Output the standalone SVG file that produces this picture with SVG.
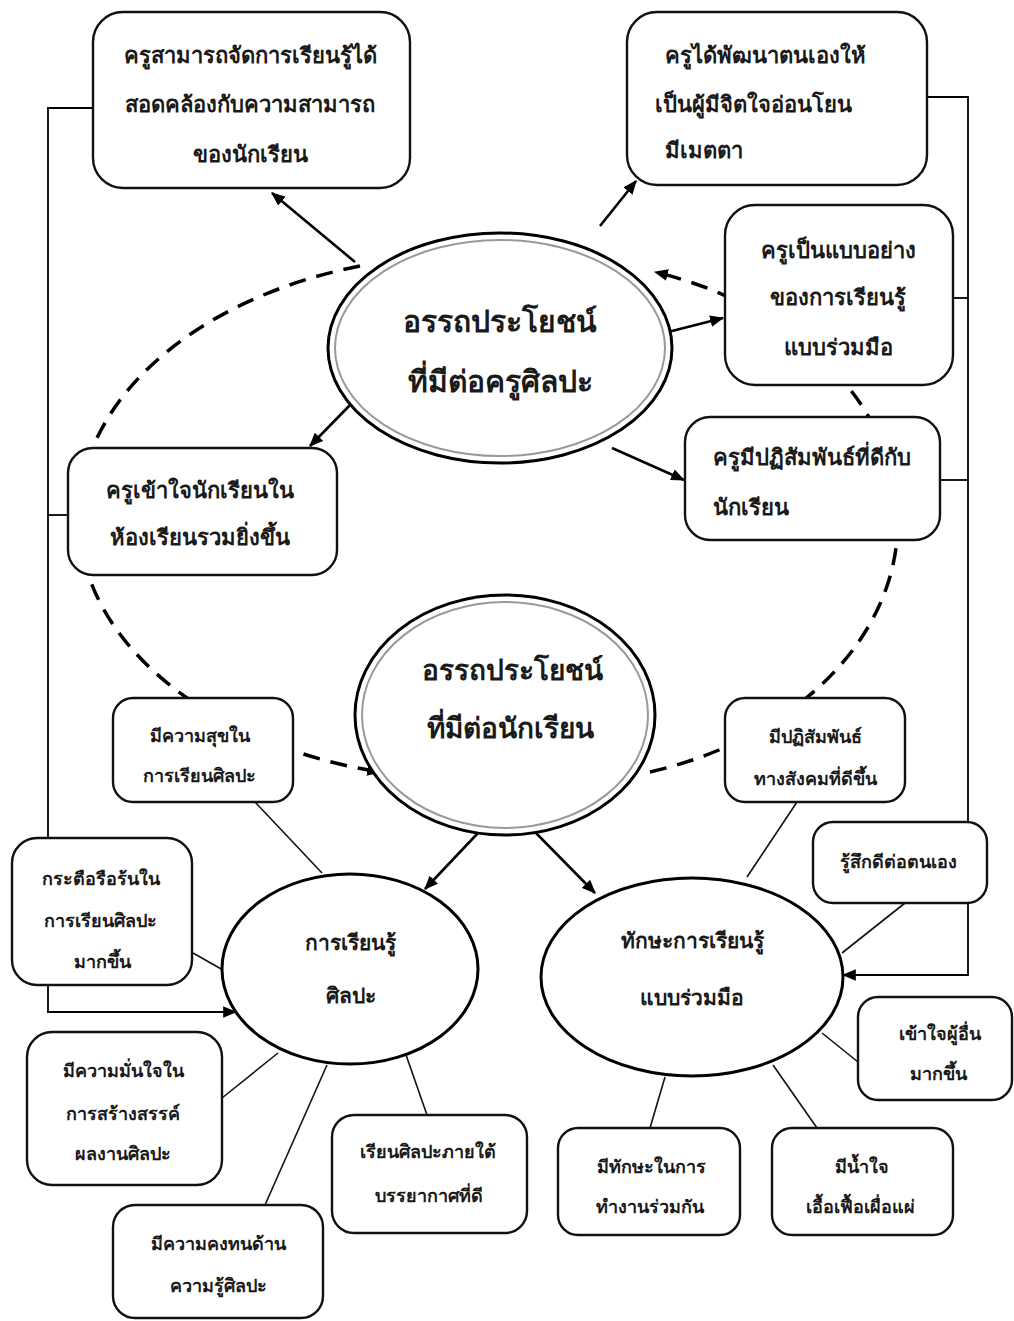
<svg xmlns="http://www.w3.org/2000/svg" width="1014" height="1321" viewBox="0 0 1014 1321">
<defs>
<marker id="ah" viewBox="0 0 12 10" refX="11" refY="5" markerWidth="14" markerHeight="12" markerUnits="userSpaceOnUse" orient="auto">
<path d="M0,0 L12,5 L0,10 z" fill="#000"/>
</marker>
<style>
.box{fill:#fff;stroke:#111;stroke-width:2.4}
.ell{fill:#fff;stroke:#000;stroke-width:3}
.inner{fill:none;stroke:#999;stroke-width:2}
.ln{fill:none;stroke:#111;stroke-width:1.6}
.arr{fill:none;stroke:#000;stroke-width:2.6;marker-end:url(#ah)}
.route{fill:none;stroke:#000;stroke-width:1.8}
.dash{fill:none;stroke:#000;stroke-width:3.5;stroke-dasharray:17 11}
text{font-family:"DejaVu Sans","Noto Sans",sans-serif;font-weight:bold;fill:#1a1a1a}
.t22{font-size:22px}
.t30{font-size:30px}
.t27{font-size:28px}
.t21{font-size:21px}
.t18{font-size:18px}
.m{text-anchor:middle}
</style>
</defs>
<rect width="1014" height="1321" fill="#fff"/>
<g id="connectors">
<path class="dash" d="M360,266 A393,262 0 0 0 380,772" marker-end="url(#ah)"/>
<path class="dash" d="M650,772 A350,262 0 0 0 655,272" marker-end="url(#ah)"/>
<path class="route" d="M93,108 H48 V1012 H236" marker-end="url(#ah)"/>
<path class="route" d="M68,515 H48"/>
<path class="route" d="M927,97 H968 V975 H843" marker-end="url(#ah)"/>
<path class="route" d="M953,298 H968"/>
<path class="route" d="M940,480 H968"/>
<line class="arr" x1="355" y1="262" x2="272" y2="193"/>
<line class="arr" x1="600" y1="226" x2="636" y2="181"/>
<line class="arr" x1="668" y1="332" x2="723" y2="318"/>
<line class="arr" x1="612" y1="448" x2="684" y2="480"/>
<line class="arr" x1="352" y1="403" x2="310" y2="446"/>
<line class="arr" x1="478" y1="833" x2="425" y2="889"/>
<line class="arr" x1="535" y1="832" x2="595" y2="893"/>
<line class="ln" x1="255" y1="802" x2="322" y2="873"/>
<line class="ln" x1="193" y1="953" x2="223" y2="970"/>
<line class="ln" x1="222" y1="1098" x2="278" y2="1053"/>
<line class="ln" x1="265" y1="1205" x2="327" y2="1065"/>
<line class="ln" x1="405" y1="1052" x2="427" y2="1115"/>
<line class="ln" x1="797" y1="802" x2="747" y2="877"/>
<line class="ln" x1="905" y1="903" x2="842" y2="953"/>
<line class="ln" x1="858" y1="1062" x2="822" y2="1033"/>
<line class="ln" x1="665" y1="1077" x2="650" y2="1128"/>
<line class="ln" x1="773" y1="1065" x2="817" y2="1128"/>
</g>
<g id="n-main-teacher">
<ellipse class="ell" cx="500" cy="348" rx="172" ry="115"/>
<ellipse class="inner" cx="500" cy="348" rx="165" ry="108"/>
<text class="t30 m" x="500" y="332">อรรถประโยชน์</text>
<text class="t30 m" x="500" y="392">ที่มีต่อครูศิลปะ</text>
</g>
<g id="n-teacher-manage">
<rect class="box" x="93" y="12" width="317" height="176" rx="30"/>
<text class="t22 m" x="250" y="63">ครูสามารถจัดการเรียนรู้ได้</text>
<text class="t22 m" x="250" y="112">สอดคล้องกับความสามารถ</text>
<text class="t22 m" x="250" y="162">ของนักเรียน</text>
</g>
<g id="n-teacher-develop">
<rect class="box" x="627" y="12" width="300" height="173" rx="30"/>
<text class="t22" x="665" y="63">ครูได้พัฒนาตนเองให้</text>
<text class="t22" x="655" y="112">เป็นผู้มีจิตใจอ่อนโยน</text>
<text class="t22" x="665" y="158">มีเมตตา</text>
</g>
<g id="n-teacher-model">
<rect class="box" x="725" y="205" width="228" height="180" rx="30"/>
<text class="t22 m" x="838" y="258">ครูเป็นแบบอย่าง</text>
<text class="t22 m" x="838" y="305">ของการเรียนรู้</text>
<text class="t22 m" x="838" y="355">แบบร่วมมือ</text>
</g>
<g id="n-teacher-relation">
<rect class="box" x="685" y="417" width="255" height="123" rx="25"/>
<text class="t22" x="713" y="465">ครูมีปฏิสัมพันธ์ที่ดีกับ</text>
<text class="t22" x="713" y="515">นักเรียน</text>
</g>
<g id="n-teacher-understand">
<rect class="box" x="68" y="448" width="269" height="127" rx="25"/>
<text class="t22 m" x="200" y="498">ครูเข้าใจนักเรียนใน</text>
<text class="t22 m" x="200" y="545">ห้องเรียนรวมยิ่งขึ้น</text>
</g>
<g id="n-main-student">
<ellipse class="ell" cx="505" cy="715" rx="150" ry="120"/>
<ellipse class="inner" cx="505" cy="715" rx="143" ry="113"/>
<text class="t27 m" x="512" y="680">อรรถประโยชน์</text>
<text class="t27 m" x="510" y="738">ที่มีต่อนักเรียน</text>
</g>
<g id="n-art-learning">
<ellipse class="ell" cx="350" cy="969" rx="128" ry="95"/>
<text class="t21 m" x="350" y="950">การเรียนรู้</text>
<text class="t21 m" x="351" y="1003">ศิลปะ</text>
</g>
<g id="n-coop-skill">
<ellipse class="ell" cx="692" cy="977" rx="151" ry="99"/>
<text class="t21 m" x="692" y="948">ทักษะการเรียนรู้</text>
<text class="t21 m" x="692" y="1005">แบบร่วมมือ</text>
</g>
<g id="n-happy">
<rect class="box" x="113" y="698" width="180" height="104" rx="20"/>
<text class="t18 m" x="200" y="742">มีความสุขใน</text>
<text class="t18 m" x="199" y="782">การเรียนศิลปะ</text>
</g>
<g id="n-social">
<rect class="box" x="725" y="698" width="180" height="104" rx="20"/>
<text class="t18 m" x="815" y="743">มีปฏิสัมพันธ์</text>
<text class="t18 m" x="815" y="785">ทางสังคมที่ดีขึ้น</text>
</g>
<g id="n-self">
<rect class="box" x="813" y="822" width="174" height="81" rx="20"/>
<text class="t18 m" x="898" y="868">รู้สึกดีต่อตนเอง</text>
</g>
<g id="n-enthusiastic">
<rect class="box" x="12" y="838" width="180" height="147" rx="25"/>
<text class="t18 m" x="101" y="885">กระตือรือร้นใน</text>
<text class="t18 m" x="100" y="927">การเรียนศิลปะ</text>
<text class="t18 m" x="102" y="968">มากขึ้น</text>
</g>
<g id="n-understand-others">
<rect class="box" x="858" y="997" width="154" height="103" rx="20"/>
<text class="t18 m" x="940" y="1040">เข้าใจผู้อื่น</text>
<text class="t18 m" x="938" y="1080">มากขึ้น</text>
</g>
<g id="n-confidence">
<rect class="box" x="27" y="1032" width="195" height="153" rx="25"/>
<text class="t18 m" x="123" y="1077">มีความมั่นใจใน</text>
<text class="t18 m" x="123" y="1120">การสร้างสรรค์</text>
<text class="t18 m" x="123" y="1160">ผลงานศิลปะ</text>
</g>
<g id="n-atmosphere">
<rect class="box" x="332" y="1115" width="195" height="118" rx="22"/>
<text class="t18 m" x="428" y="1158">เรียนศิลปะภายใต้</text>
<text class="t18 m" x="429" y="1202">บรรยากาศที่ดี</text>
</g>
<g id="n-retention">
<rect class="box" x="113" y="1205" width="210" height="113" rx="22"/>
<text class="t18 m" x="218" y="1250">มีความคงทนด้าน</text>
<text class="t18 m" x="218" y="1292">ความรู้ศิลปะ</text>
</g>
<g id="n-teamwork">
<rect class="box" x="558" y="1128" width="182" height="107" rx="20"/>
<text class="t18 m" x="651" y="1173">มีทักษะในการ</text>
<text class="t18 m" x="650" y="1213">ทำงานร่วมกัน</text>
</g>
<g id="n-generous">
<rect class="box" x="772" y="1128" width="181" height="107" rx="20"/>
<text class="t18 m" x="862" y="1173">มีน้ำใจ</text>
<text class="t18 m" x="860" y="1213">เอื้อเฟื้อเผื่อแผ่</text>
</g>
</svg>
